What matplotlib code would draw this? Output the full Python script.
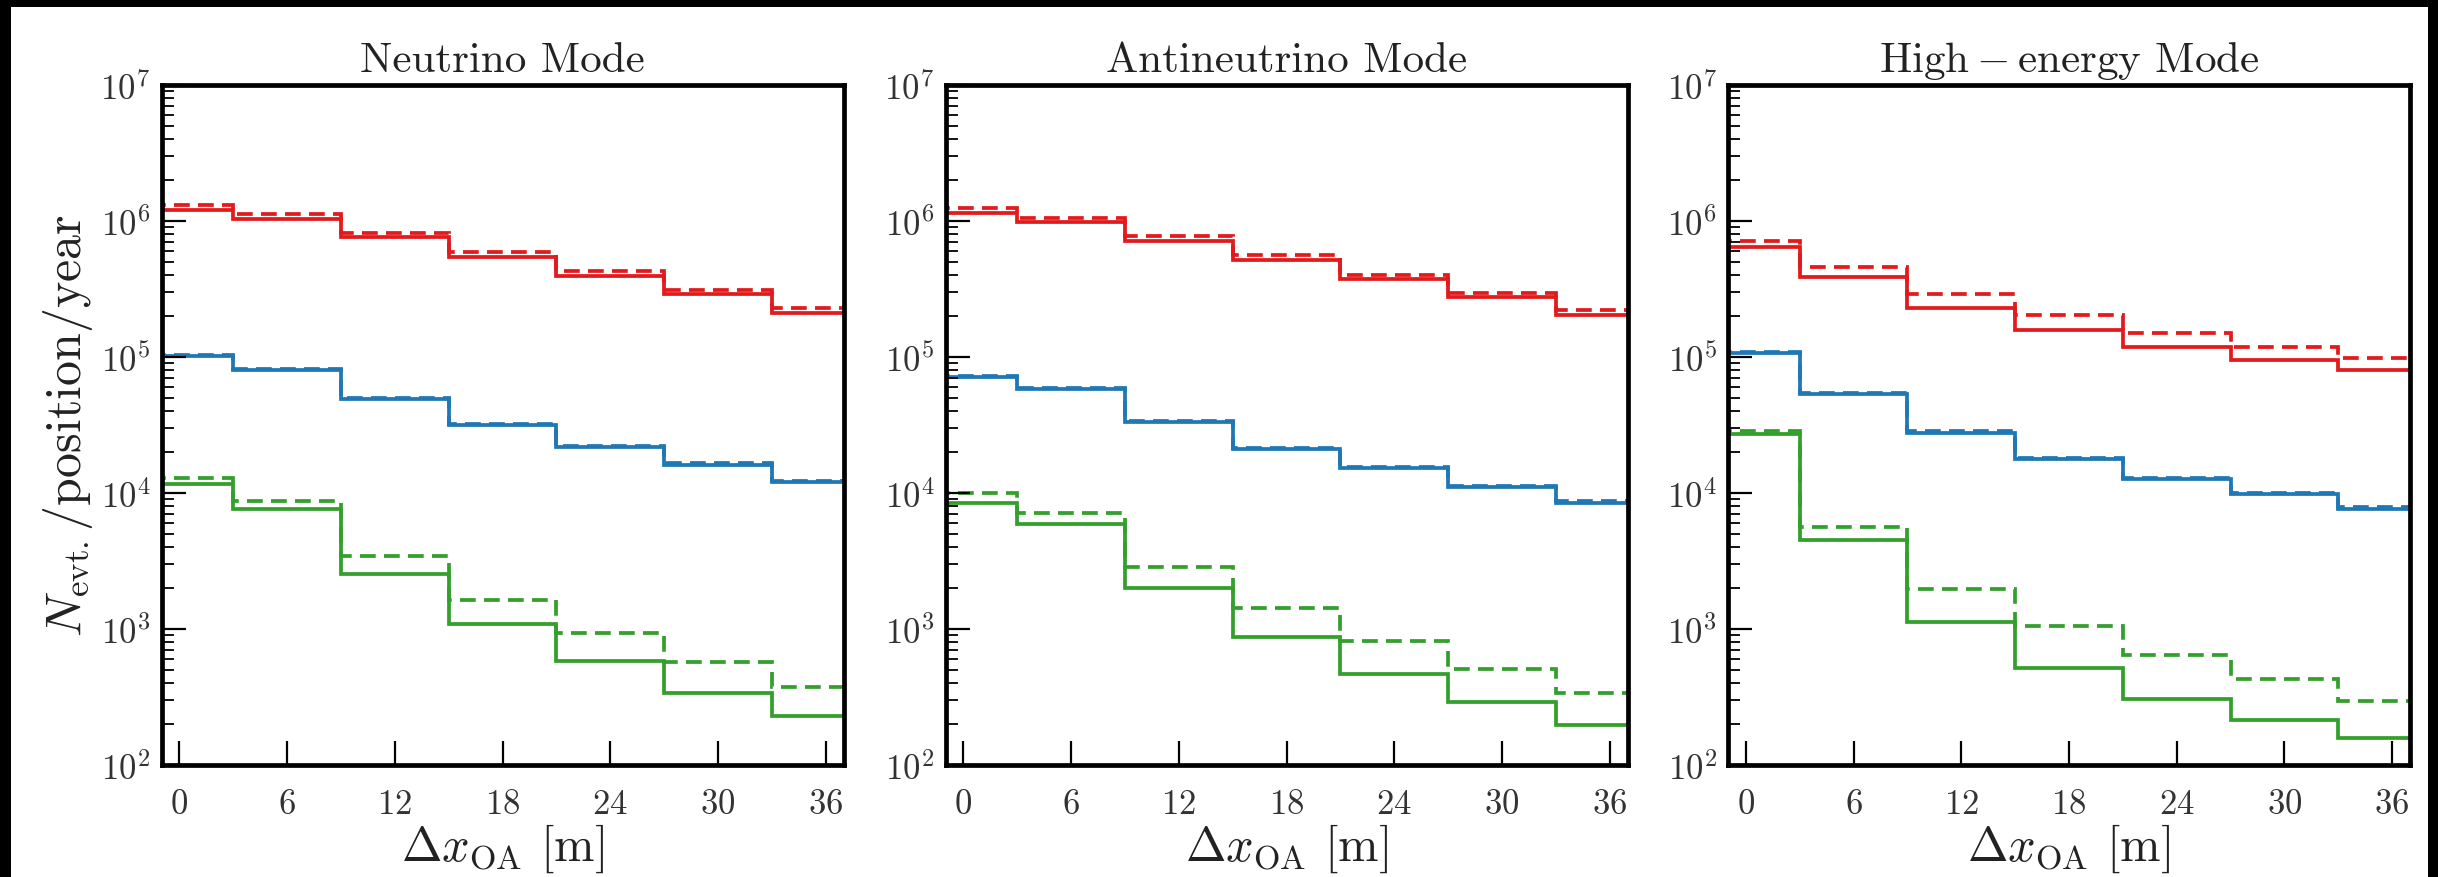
import numpy as np
import matplotlib
matplotlib.use("Agg")
import matplotlib.pyplot as plt
from matplotlib.patches import Rectangle
from matplotlib.ticker import LogLocator, FixedLocator, NullFormatter

plt.rcParams['font.family'] = 'serif'
plt.rcParams['font.serif'] = ['cmr10', 'DejaVu Serif']
plt.rcParams['mathtext.fontset'] = 'cm'
plt.rcParams['axes.formatter.use_mathtext'] = True
plt.rcParams['axes.unicode_minus'] = False

# bin edges of the off-axis positions [m]
edges = [-3, 3, 9, 15, 21, 27, 33, 39]
titles = ['Neutrino Mode', 'Antineutrino Mode', r'$\mathrm{High-energy}$ Mode']

# neutrino mode
nu_red = [1.21e6, 1.04e6, 7.6e5, 5.46e5, 3.94e5, 2.89e5, 2.12e5]
nu_red_d = [1.31e6, 1.12e6, 8.2e5, 5.9e5, 4.27e5, 3.13e5, 2.29e5]
nu_blue = [1.02e5, 8.05e4, 4.87e4, 3.18e4, 2.19e4, 1.62e4, 1.20e4]
nu_blue_d = [1.04e5, 8.2e4, 4.97e4, 3.24e4, 2.23e4, 1.65e4, 1.22e4]
nu_green = [1.16e4, 7.57e3, 2.55e3, 1.09e3, 577, 341, 228]
nu_green_d = [1.30e4, 8.7e3, 3.43e3, 1.63e3, 933, 568, 373]

# antineutrino mode
anu_red = [1.15e6, 9.85e5, 7.17e5, 5.17e5, 3.73e5, 2.76e5, 2.04e5]
anu_red_d = [1.24e6, 1.06e6, 7.74e5, 5.59e5, 4.04e5, 2.96e5, 2.2e5]
anu_blue = [7.16e4, 5.77e4, 3.3e4, 2.1e4, 1.52e4, 1.11e4, 8.5e3]
anu_blue_d = [7.3e4, 5.88e4, 3.37e4, 2.14e4, 1.55e4, 1.13e4, 8.67e3]
anu_green = [8.5e3, 5.9e3, 2.0e3, 878, 465, 292, 198]
anu_green_d = [9.94e3, 7.1e3, 2.87e3, 1.43e3, 811, 509, 340]

# high-energy mode
he_red = [6.39e5, 3.86e5, 2.29e5, 1.58e5, 1.18e5, 9.55e4, 8.0e4]
he_red_d = [7.17e5, 4.6e5, 2.89e5, 2.04e5, 1.51e5, 1.19e5, 9.85e4]
he_blue = [1.07e5, 5.33e4, 2.78e4, 1.77e4, 1.27e4, 9.77e3, 7.69e3]
he_blue_d = [1.09e5, 5.44e4, 2.84e4, 1.81e4, 1.3e4, 9.97e3, 7.84e3]
he_green = [2.72e4, 4.5e3, 1.13e3, 513, 308, 214, 157]
he_green_d = [2.87e4, 5.64e3, 1.98e3, 1.06e3, 647, 430, 296]

panels = [
    [(nu_red, nu_red_d), (nu_blue, nu_blue_d), (nu_green, nu_green_d)],
    [(anu_red, anu_red_d), (anu_blue, anu_blue_d), (anu_green, anu_green_d)],
    [(he_red, he_red_d), (he_blue, he_blue_d), (he_green, he_green_d)],
]
colors = ['#e31a1c', '#1f78b4', '#33a02c']

fig = plt.figure(figsize=(24.38, 8.78), dpi=100)
fig.patch.set_facecolor('black')
fig.patches.append(Rectangle((11 / 2438, 0), (2428 - 11) / 2438, (878 - 8) / 878,
                             transform=fig.transFigure, facecolor='white',
                             edgecolor='none', zorder=-10))

lefts = [161.5 / 2438, 945.5 / 2438, 1728 / 2438]
w = 682 / 2438
b = (878 - 766) / 878
h = 680 / 878

for i in range(3):
    ax = fig.add_axes([lefts[i], b, w, h])
    for (solid, dashed), c in zip(panels[i], colors):
        ax.stairs(solid, edges, baseline=None, color=c, lw=2.7)
        ax.stairs(dashed, edges, baseline=None, color=c, lw=2.7,
                  linestyle=(0, (4.2, 2.2)))
    ax.set_yscale('log')
    ax.set_xlim(-1, 37)
    ax.set_ylim(1e2, 1e7)
    ax.xaxis.set_major_locator(FixedLocator([0, 6, 12, 18, 24, 30, 36]))
    ax.yaxis.set_major_locator(LogLocator(base=10, numticks=10))
    ax.yaxis.set_minor_locator(LogLocator(base=10, subs=np.arange(2, 10), numticks=10))
    ax.yaxis.set_minor_formatter(NullFormatter())
    ax.tick_params(axis='both', which='major', direction='in', length=17, width=1.6,
                   labelsize=25, top=False, right=False, colors='black',
                   labelcolor='#333333')
    ax.tick_params(axis='x', which='major', pad=17)
    ax.tick_params(axis='y', which='major', pad=8)
    ax.tick_params(axis='y', which='minor', direction='in', length=8.5, width=1.3,
                   right=False)
    ax.tick_params(axis='x', which='minor', bottom=False, top=False)
    for s in ax.spines.values():
        s.set_linewidth(3.4)
    ax.set_title(titles[i], fontsize=31, pad=10, color='#222222')
    ax.set_xlabel(r'$\Delta x_{\rm OA}$ [m]', fontsize=35, labelpad=1, color='#222222')
    if i == 0:
        ax.set_ylabel(r'$N_{\rm evt.}/{\rm position/year}$', fontsize=36,
                      labelpad=4, color='#222222')

fig.savefig('out.png', dpi=100, facecolor=fig.get_facecolor())
